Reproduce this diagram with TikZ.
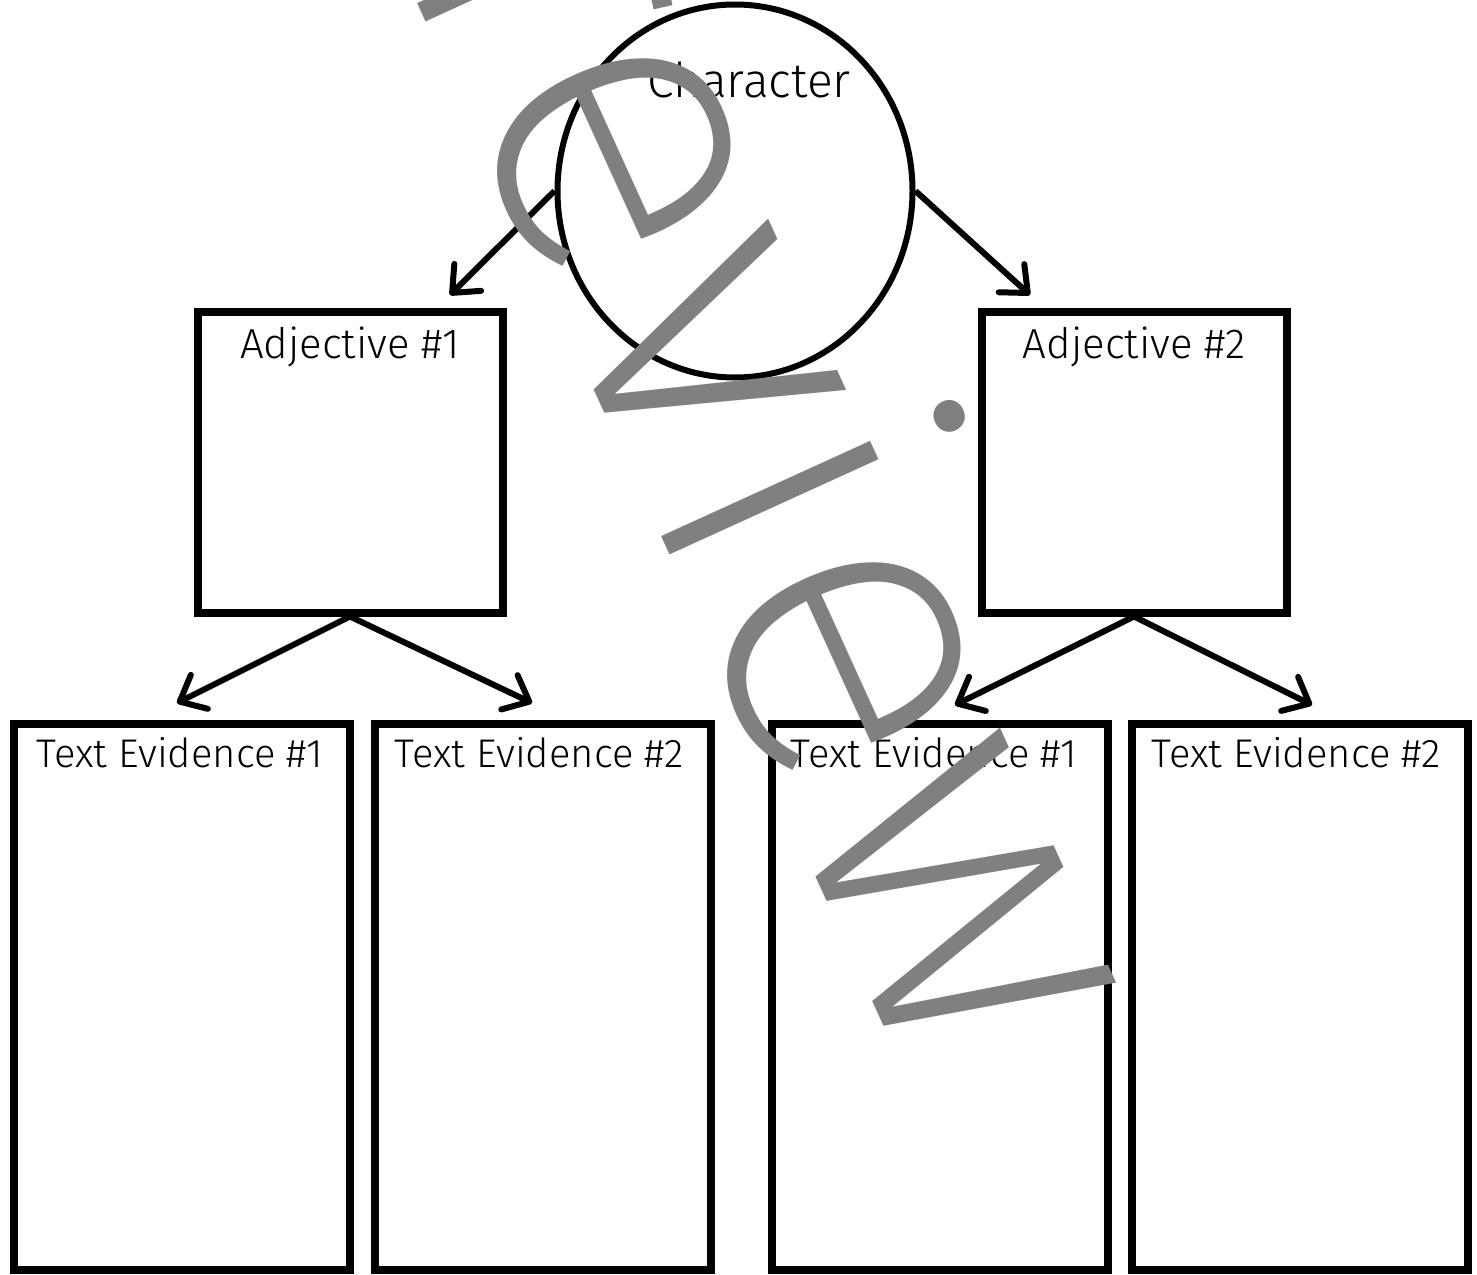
\documentclass[tikz,border=0pt]{standalone}
\usepackage{fontspec}
\setmainfont{Fira Sans}[UprightFont={* Light}]
\newfontfamily\stampfont{Fira Sans}[UprightFont={* ExtraLight}]
\usetikzlibrary{arrows.meta,shapes.geometric}

\tikzset{
    box/.style={draw, rectangle, line width=4pt, inner sep=0pt},
    adjbox/.style={box, minimum width=152.5pt, minimum height=150.5pt},
    evbox/.style={box, minimum width=168pt, minimum height=273pt},
    arr/.style={line width=3pt, -{Straight Barb[length=11pt,width=19pt,round]}},
    lbl/.style={anchor=base, inner sep=0pt, font=\fontsize{21}{24}\selectfont},
    evlbl/.style={lbl, font=\fontsize{20}{23}\selectfont}
}

\begin{document}
\begin{tikzpicture}[x=0.5pt,y=-0.5pt]
\useasboundingbox (0,0) rectangle (1477,1274);

% Character
\node[ellipse, draw, line width=3pt, inner sep=0pt,
      minimum width=177.5pt, minimum height=186.5pt] (char) at (735,191) {};
\node[lbl, font=\fontsize{24}{28}\selectfont] (charlbl) at (749,97) {Character};

% Adjectives
\node[adjbox] (adj1) at (350,462) {};
\node[adjbox] (adj2) at (1134,462) {};
\node[lbl] (adj1lbl) at (350,358) {Adjective \#1};
\node[lbl] (adj2lbl) at (1134,358) {Adjective \#2};

% Text evidence
\node[evbox] (ev1) at (182,997) {};
\node[evbox] (ev2) at (543,997) {};
\node[evbox] (ev3) at (940,997) {};
\node[evbox] (ev4) at (1300,997) {};
\node[evlbl] (ev1lbl) at (180,767) {Text Evidence \#1};
\node[evlbl] (ev2lbl) at (539,767) {Text Evidence \#2};
\node[evlbl] (ev3lbl) at (934,767) {Text Evidence \#1};
\node[evlbl] (ev4lbl) at (1296,767) {Text Evidence \#2};

% Arrow ends
\coordinate (t1) at (450,295);
\coordinate (t2) at (1030,295);
\coordinate (t3) at (177,703);
\coordinate (t4) at (532,703);
\coordinate (t5) at (955,705);
\coordinate (t6) at (1312,705);

% Arrows
\draw[arr] (char.west) -- (t1);
\draw[arr] (char.east) -- (t2);
\draw[arr] (adj1.south) -- (t3);
\draw[arr] (adj1.south) -- (t4);
\draw[arr] (adj2.south) -- (t5);
\draw[arr] (adj2.south) -- (t6);

% Preview stamp
\node[anchor=base west, rotate=-65.5, inner sep=0pt, text=gray,
      font=\stampfont\fontsize{220}{220}\selectfont] (stamp) at (298,-260) {Preview};

\end{tikzpicture}
\end{document}
